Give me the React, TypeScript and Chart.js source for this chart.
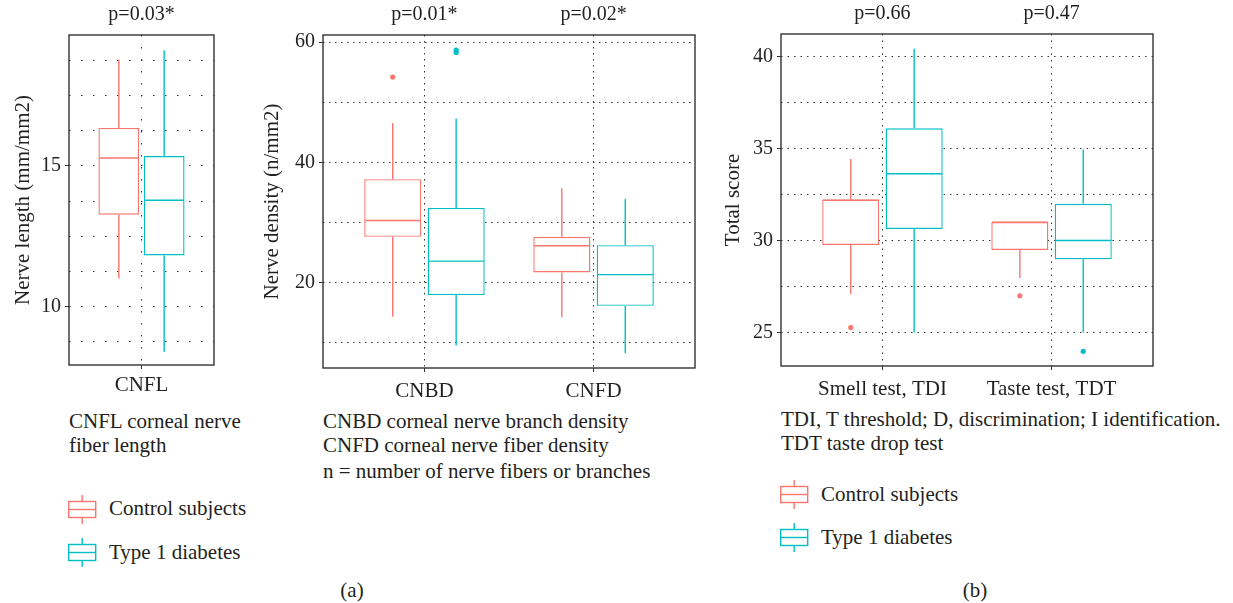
import React, { useEffect, useRef } from "react";
import { Chart, registerables } from "chart.js";

Chart.register(...registerables);

const FONT = "'Liberation Serif', 'DejaVu Serif', serif";
const TEXT = "#231f20";
const RED = "#F8766D";
const TEAL = "#00BFC4";
const GRID = "#333333";

// Each row: [lower whisker, Q1, median, Q3, upper whisker]
const cnflCategories = ["CNFL"];
const cnflControl = [[11.0, 13.27, 15.28, 16.35, 18.78]];
const cnflDiabetes = [[8.4, 11.82, 13.78, 15.35, 19.11]];
const cnflControlOutliers: number[][] = [[]];
const cnflDiabetesOutliers: number[][] = [[]];
const cnflPValues = ["p=0.03*"];
const cnflGridTicks = [8.75, 10, 11.25, 12.5, 13.75, 15, 16.25, 17.5, 18.75];
const cnflTickLabels = [10, 15];

const densCategories = ["CNBD", "CNFD"];
const densControl = [
  [14.3, 27.6, 30.3, 37.2, 46.55],
  [14.2, 21.67, 26.1, 27.6, 35.7],
];
const densDiabetes = [
  [9.5, 17.9, 23.55, 32.4, 47.3],
  [8.2, 16.1, 21.3, 26.2, 33.9],
];
const densControlOutliers = [[54.2], []];
const densDiabetesOutliers = [[58.3, 58.7], []];
const densPValues = ["p=0.01*", "p=0.02*"];
const densGridTicks = [10, 20, 30, 40, 50, 60];
const densTickLabels = [20, 40, 60];

const scoreCategories = ["Smell test, TDI", "Taste test, TDT"];
const scoreControl = [
  [27.08, 29.76, 32.2, 32.23, 34.44],
  [27.97, 29.49, 31.0, 31.01, 31.01],
];
const scoreDiabetes = [
  [25.0, 30.63, 33.63, 36.1, 40.43],
  [25.0, 28.98, 30.0, 32.0, 34.95],
];
const scoreControlOutliers = [[25.27], [27.0]];
const scoreDiabetesOutliers = [[], [23.98]];
const scorePValues = ["p=0.66", "p=0.47"];
const scoreGridTicks = [25, 27.5, 30, 32.5, 35, 37.5, 40];
const scoreTickLabels = [25, 30, 35, 40];

const boxExtras = {
  id: "boxExtras",
  afterDatasetsDraw(chart: any, _args: any, opts: any) {
    const { ctx, chartArea: a, scales } = chart;
    const y = scales.y;
    const x = scales.x;
    chart.data.datasets.forEach((ds: any, di: number) => {
      const meta = chart.getDatasetMeta(di);
      meta.data.forEach((el: any, i: number) => {
        const { x: cx, width } = el.getProps(["x", "width"], true);
        const [lo, q1, med, q3, hi] = ds.stats[i];
        ctx.save();
        ctx.strokeStyle = ds.borderColor;
        ctx.fillStyle = ds.borderColor;
        ctx.lineWidth = 1.4;
        ctx.beginPath();
        ctx.moveTo(cx, y.getPixelForValue(q3));
        ctx.lineTo(cx, y.getPixelForValue(hi));
        ctx.moveTo(cx, y.getPixelForValue(q1));
        ctx.lineTo(cx, y.getPixelForValue(lo));
        ctx.stroke();
        const ym = y.getPixelForValue(med);
        ctx.beginPath();
        ctx.moveTo(cx - width / 2 + 0.7, ym);
        ctx.lineTo(cx + width / 2 - 0.7, ym);
        ctx.stroke();
        ds.outliers[i].forEach((v: number) => {
          ctx.beginPath();
          ctx.arc(cx, y.getPixelForValue(v), 2.6, 0, Math.PI * 2);
          ctx.fill();
        });
        ctx.restore();
      });
    });
    ctx.save();
    ctx.strokeStyle = "#333";
    ctx.lineWidth = 1.4;
    ctx.strokeRect(a.left, a.top, a.right - a.left, a.bottom - a.top);
    ctx.fillStyle = TEXT;
    ctx.font = `20px ${FONT}`;
    ctx.textAlign = "center";
    ctx.textBaseline = "middle";
    (opts.pValues || []).forEach((t: string, i: number) => {
      ctx.fillText(t, x.getPixelForValue(i + 1), a.top - 20);
    });
    ctx.restore();
  },
};

function buildConfig(s: any): any {
  const mk = (label: string, color: string, stats: number[][], outliers: number[][]) => ({
    label,
    data: stats.map((r, i) => ({ x: i + 1, y: [r[1], r[3]] })),
    stats,
    outliers,
    backgroundColor: "#ffffff",
    borderColor: color,
    borderWidth: 1.4,
    borderSkipped: false,
    categoryPercentage: s.catPct,
    barPercentage: 0.9,
    grouped: true,
  });
  return {
    type: "bar",
    data: {
      datasets: [
        mk("Control subjects", RED, s.control, s.controlOut),
        mk("Type 1 diabetes", TEAL, s.diabetes, s.diabetesOut),
      ],
    },
    options: {
      responsive: false,
      animation: false,
      events: [],
      layout: { padding: s.padding },
      plugins: {
        legend: { display: false },
        tooltip: { enabled: false },
        boxExtras: { pValues: s.pValues },
      },
      scales: {
        x: {
          type: "linear",
          min: s.xMin,
          max: s.xMax,
          offset: false,
          afterBuildTicks: (sc: any) => {
            sc.ticks = s.categories.map((_: string, i: number) => ({ value: i + 1 }));
          },
          afterFit: (sc: any) => {
            sc.height = s.xHeight;
          },
          ticks: {
            callback: (v: number) => s.categories[Math.round(v) - 1] ?? "",
            font: { family: FONT, size: 21 },
            color: TEXT,
            padding: s.xPad,
            maxRotation: 0,
            autoSkip: false,
          },
          grid: { color: GRID, lineWidth: 1, tickLength: 4, tickColor: GRID, tickWidth: 1, offset: false },
          border: { display: false, dash: s.dash },
        },
        y: {
          type: "linear",
          min: s.yMin,
          max: s.yMax,
          afterBuildTicks: (sc: any) => {
            sc.ticks = s.gridTicks.map((v: number) => ({ value: v }));
          },
          afterFit: (sc: any) => {
            sc.width = s.yWidth;
          },
          ticks: {
            callback: (v: number) => (s.tickLabels.includes(v) ? String(v) : ""),
            font: { family: FONT, size: 20 },
            color: TEXT,
            padding: 4,
            autoSkip: false,
          },
          grid: {
            color: GRID,
            lineWidth: 1,
            tickLength: 4,
            tickWidth: 1,
            tickColor: (c: any) => (c.tick && s.tickLabels.includes(c.tick.value) ? GRID : "rgba(0,0,0,0)"),
          },
          border: { display: false, dash: s.dash },
          title: {
            display: true,
            text: s.yTitle,
            font: { family: FONT, size: 21 },
            color: TEXT,
            padding: { top: s.titlePad, bottom: 0 },
          },
        },
      },
    },
    plugins: [boxExtras],
  };
}

const panel1 = {
  categories: cnflCategories, control: cnflControl, diabetes: cnflDiabetes,
  controlOut: cnflControlOutliers, diabetesOut: cnflDiabetesOutliers, pValues: cnflPValues,
  gridTicks: cnflGridTicks, tickLabels: cnflTickLabels,
  yMin: 7.93, yMax: 19.65, xMin: 0.4, xMax: 1.6, catPct: 0.625,
  yTitle: "Nerve length (mm/mm2)", yWidth: 69, xHeight: 35, xPad: 4,
  padding: { top: 35, right: 26, left: 0, bottom: 0 }, titlePad: 11, dash: [1.5, 10.5],
};
const panel2 = {
  categories: densCategories, control: densControl, diabetes: densDiabetes,
  controlOut: densControlOutliers, diabetesOut: densDiabetesOutliers, pValues: densPValues,
  gridTicks: densGridTicks, tickLabels: densTickLabels,
  yMin: 5.75, yMax: 61.2, xMin: 0.4, xMax: 2.6, catPct: 0.75,
  yTitle: "Nerve density (n/mm2)", yWidth: 83, xHeight: 32, xPad: 7,
  padding: { top: 35, right: 15, left: 0, bottom: 0 }, titlePad: 20, dash: [1.5, 4.5],
};
const panel3 = {
  categories: scoreCategories, control: scoreControl, diabetes: scoreDiabetes,
  controlOut: scoreControlOutliers, diabetesOut: scoreDiabetesOutliers, pValues: scorePValues,
  gridTicks: scoreGridTicks, tickLabels: scoreTickLabels,
  yMin: 23.18, yMax: 41.23, xMin: 0.4, xMax: 2.6, catPct: 0.75,
  yTitle: "Total score", yWidth: 71, xHeight: 34, xPad: 7,
  padding: { top: 34, right: 80, left: 0, bottom: 0 }, titlePad: 11, dash: [1.5, 5],
};

function BoxPanel({ spec, left, width, height }: any) {
  const ref = useRef<HTMLCanvasElement>(null);
  useEffect(() => {
    const chart = new Chart(ref.current as HTMLCanvasElement, buildConfig(spec));
    return () => chart.destroy();
  }, []);
  return (
    <canvas
      ref={ref}
      width={width}
      height={height}
      style={{ position: "absolute", left, top: 0, width, height }}
    />
  );
}

function Line({ x, cy, children, center }: any) {
  return (
    <div
      style={{
        position: "absolute",
        left: center ? x - 100 : x,
        width: center ? 200 : undefined,
        textAlign: center ? "center" : "left",
        top: cy - 12,
        fontFamily: FONT,
        fontSize: 21,
        lineHeight: "24px",
        color: TEXT,
        whiteSpace: "nowrap",
      }}
    >
      {children}
    </div>
  );
}

function Key({ x, cy, color }: any) {
  return (
    <svg
      width={29}
      height={29}
      style={{ position: "absolute", left: x, top: cy - 14.5 }}
    >
      <rect x={0.7} y={6.5} width={27} height={16} fill="#fff" stroke={color} strokeWidth={1.4} />
      <line x1={14.2} y1={0} x2={14.2} y2={6.5} stroke={color} strokeWidth={1.4} />
      <line x1={14.2} y1={22.5} x2={14.2} y2={29} stroke={color} strokeWidth={1.4} />
      <line x1={0.7} y1={14.5} x2={27.7} y2={14.5} stroke={color} strokeWidth={1.4} />
    </svg>
  );
}

export default function App() {
  return (
    <div style={{ position: "absolute", left: 0, top: 0, width: 1233, height: 603, background: "#fff", overflow: "hidden" }}>
      <BoxPanel spec={panel1} left={0} width={240} height={400} />
      <div style={{ position: "absolute", left: 240, top: 0 }}>
        <BoxPanel spec={panel2} left={0} width={470} height={400} />
      </div>
      <div style={{ position: "absolute", left: 710, top: 0 }}>
        <BoxPanel spec={panel3} left={0} width={523} height={400} />
      </div>

      <Line x={69} cy={421}>CNFL corneal nerve</Line>
      <Line x={69} cy={445}>fiber length</Line>
      <Line x={323} cy={421}>CNBD corneal nerve branch density</Line>
      <Line x={323} cy={445}>CNFD corneal nerve fiber density</Line>
      <Line x={323} cy={471}>n = number of nerve fibers or branches</Line>

      <Key x={68} cy={509.5} color={RED} />
      <Line x={109} cy={508}>Control subjects</Line>
      <Key x={68} cy={552} color={TEAL} />
      <Line x={109} cy={551.5}>Type 1 diabetes</Line>
      <Line x={352} cy={590} center>(a)</Line>

      <Line x={781} cy={418.5}>TDI, T threshold; D, discrimination; I identification.</Line>
      <Line x={781} cy={443}>TDT taste drop test</Line>
      <Key x={780} cy={494} color={RED} />
      <Line x={821} cy={494}>Control subjects</Line>
      <Key x={780} cy={537.5} color={TEAL} />
      <Line x={821} cy={536.7}>Type 1 diabetes</Line>
      <Line x={975} cy={590} center>(b)</Line>
    </div>
  );
}
